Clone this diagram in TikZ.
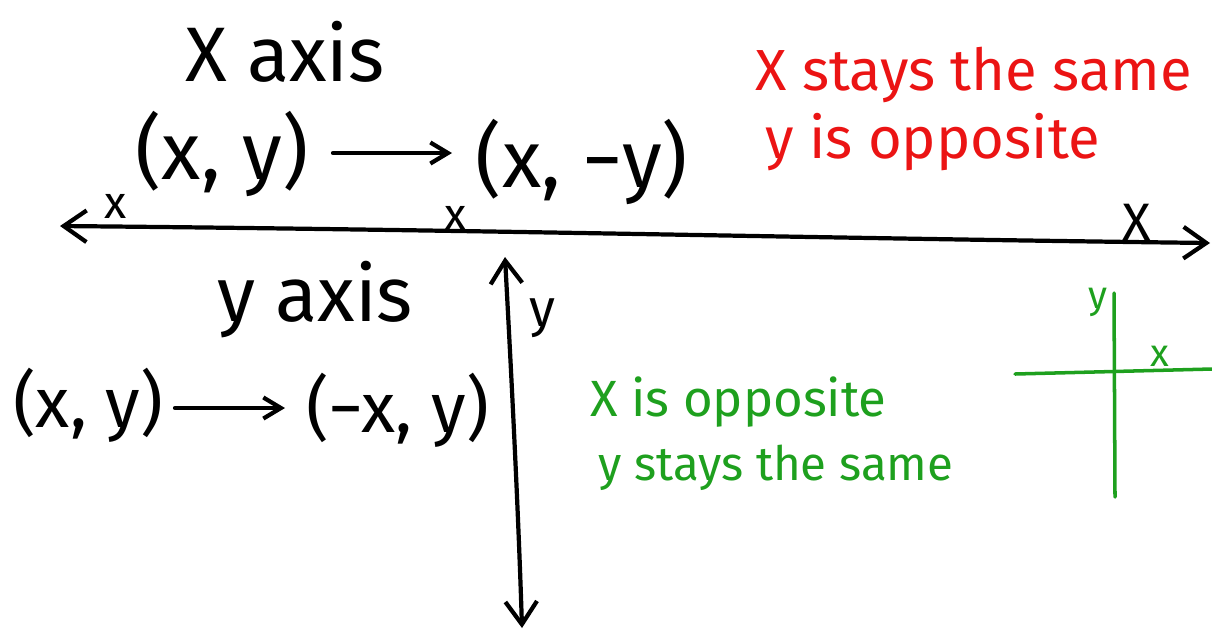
\documentclass[tikz,border=0pt]{standalone}
\usepackage{fontspec}
\setmainfont{Fira Sans}
\usepackage{xcolor}
\usetikzlibrary{
    positioning,
    arrows.meta
}
\definecolor{penred}{RGB}{235,20,20}
\definecolor{pengreen}{RGB}{30,160,30}

\begin{document}
\begin{tikzpicture}[
    x=0.02cm, y=-0.02cm,
    every node/.style={font=\fontsize{30}{34}\selectfont},
    pen/.style={line width=2.4pt, line cap=round, line join=round},
    axisline/.style={pen, {Straight Barb[length=13pt, width=18pt]}-{Straight Barb[length=13pt, width=18pt]}},
    maparrow/.style={pen, -{Straight Barb[length=10pt, width=12pt]}},
    title/.style={font=\fontsize{44}{48}\selectfont},
    pair/.style={font=\fontsize{40}{44}\selectfont},
    bigpair/.style={font=\fontsize{46}{50}\selectfont, inner sep=0pt},
    tick/.style={font=\fontsize{26}{28}\selectfont, inner sep=0pt},
    rednote/.style={text=penred, font=\fontsize{33}{36}\selectfont, anchor=west, inner sep=0pt},
    greennote/.style={text=pengreen, font=\fontsize{29}{32}\selectfont, anchor=west, inner sep=0pt},
    minigreen/.style={draw=pengreen, line width=2pt, line cap=round}
]
\useasboundingbox (0,0) rectangle (1212,630);

% big axes
\coordinate (xleft) at (60,226);
\coordinate (xright) at (1210,243);
\coordinate (ytop) at (505,257);
\coordinate (ybottom) at (522,628);
\draw[axisline] (xleft) .. controls (500,230) and (800,238) .. (xright);
\draw[axisline] (ybottom) .. controls (518,500) and (510,350) .. (ytop);

\node[tick] (xmarkleft) at (116,206) {x};
\node[tick] (xmarkmid) at (456,218) {x};
\node (xlabel) at (1137,222) {X};
\node (ylabel) at (542,318) {y};

% reflection in the x axis
\node[title] (xaxis) at (285,52) {X axis};
\node[bigpair] (xpair) at (222,154) {(x, y)};
\node[bigpair] (ximage) at (582,162) {(x, −y)};
\coordinate (xs) at (333,153);
\coordinate (xe) at (452,153);
\draw[maparrow] (xs) -- (xe);

% reflection in the y axis
\node[title] (yaxis) at (315,300) {y axis};
\node[pair] (ypair) at (88,405) {(x, y)};
\node[pair, anchor=west] (yimage) at (300,410) {(−x, y)};
\coordinate (ys) at (175,408);
\coordinate (ye) at (285,408);
\draw[maparrow] (ys) -- (ye);

% notes
\node[rednote] (rednoteone) at (755,75) {X stays the same};
\node[rednote] (rednotetwo) at (765,142) {y is opposite};
\node[greennote] (greennoteone) at (590,402) {X is opposite};
\node[greennote, font=\fontsize{27}{30}\selectfont] (greennotetwo) at (598,468) {y stays the same};

% small green axes
\coordinate (gleft) at (1015,374);
\coordinate (gright) at (1212,369);
\coordinate (gtop) at (1114,293);
\coordinate (gbottom) at (1115,497);
\draw[minigreen] (gleft) -- (gright);
\draw[minigreen] (gtop) -- (gbottom);
\node[text=pengreen, font=\fontsize{22}{24}\selectfont] (gy) at (1098,302) {y};
\node[text=pengreen, font=\fontsize{22}{24}\selectfont] (gx) at (1160,356) {x};

\end{tikzpicture}
\end{document}
